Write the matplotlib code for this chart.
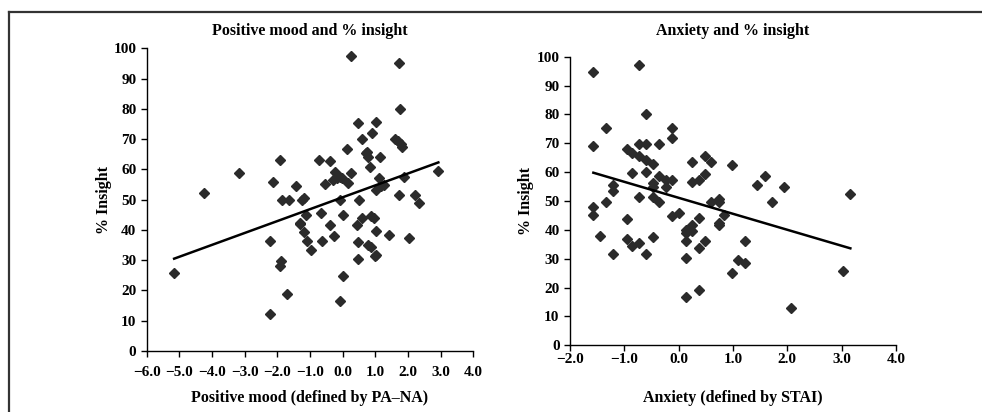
import matplotlib
matplotlib.use("Agg")
import matplotlib.pyplot as plt
from matplotlib.lines import Line2D

# Positive mood (PA-NA) vs % insight
mood_x = [-5.16, -4.24, -3.16, -2.22, -2.22, -2.12, -1.91, -1.89, -1.91, -1.86,
          -1.69, -1.65, -1.42, -1.31, -1.30, -1.24, -1.17, -1.18, -1.12, -1.10,
          -0.97, -0.72, -0.65, -0.63, -0.54, -0.38, -0.38, -0.29, -0.22, -0.25,
          -0.18, -0.08, -0.02, -0.09, -0.09, 0.02, 0.02, 0.14, 0.16, 0.26,
          0.26, 0.43, 0.49, 0.46, 0.46, 0.48, 0.58, 0.58, 0.71, 0.75,
          0.79, 0.84, 0.89, 0.78, 0.86, 0.88, 0.96, 0.99, 1.03, 1.02,
          1.01, 1.02, 1.11, 1.14, 1.18, 1.28, 1.42, 1.60, 1.70, 1.78,
          1.81, 1.73, 1.77, 1.89, 1.73, 2.02, 2.21, 2.34, 2.93]
mood_y = [25.7, 52.3, 58.7, 12.2, 36.5, 55.7, 63.1, 29.6, 28.2, 49.9,
          18.8, 49.9, 54.5, 42.4, 42.0, 49.9, 50.7, 39.2, 44.9, 36.5,
          33.4, 63.1, 45.5, 36.5, 55.3, 62.7, 41.6, 56.5, 59.1, 38.1,
          57.1, 57.6, 57.3, 49.9, 16.6, 44.9, 24.8, 66.6, 55.6, 58.9,
          97.5, 41.6, 49.9, 35.9, 30.3, 75.2, 69.9, 43.8, 65.3, 65.8,
          64.2, 60.7, 72.1, 35.0, 34.4, 44.6, 43.8, 31.4, 31.7, 39.6,
          75.7, 53.2, 57.2, 64.0, 54.5, 55.0, 38.2, 70.0, 69.5, 68.4,
          67.5, 95.0, 79.8, 57.6, 51.5, 37.3, 51.5, 49.0, 59.6]
mood_fit_x = [-5.16, 2.93]
mood_fit_y = [30.5, 62.3]

# Anxiety (STAI) vs % insight
anx_x = [-1.57, -1.57, -1.57, -1.57, -1.45, -1.33, -1.33, -1.20, -1.20, -1.20,
         -0.96, -0.96, -0.96, -0.85, -0.85, -0.85, -0.73, -0.73, -0.73, -0.73,
         -0.73, -0.60, -0.60, -0.60, -0.60, -0.60, -0.48, -0.48, -0.48, -0.48,
         -0.48, -0.36, -0.36, -0.36, -0.24, -0.24, -0.12, -0.12, -0.12, -0.12,
         0.00, 0.13, 0.13, 0.13, 0.13, 0.13, 0.24, 0.24, 0.25, 0.25,
         0.37, 0.37, 0.37, 0.37, 0.49, 0.49, 0.49, 0.60, 0.60, 0.74,
         0.74, 0.74, 0.74, 0.84, 0.98, 0.98, 1.09, 1.22, 1.22, 1.45,
         1.58, 1.71, 1.93, 2.06, 3.03, 3.15]
anx_y = [94.8, 69.1, 48.0, 45.2, 38.0, 75.4, 49.8, 55.5, 53.5, 31.6,
         67.9, 43.9, 36.7, 66.5, 59.6, 34.4, 97.1, 69.6, 65.6, 51.5,
         35.3, 80.0, 69.6, 64.2, 60.2, 31.6, 62.8, 56.1, 55.0, 51.5,
         37.6, 69.6, 58.8, 49.8, 57.2, 54.7, 75.2, 71.9, 57.3, 44.8,
         45.7, 40.0, 38.8, 36.3, 30.4, 16.9, 63.6, 56.5, 41.7, 39.6,
         57.3, 44.0, 33.6, 19.2, 65.6, 59.4, 36.3, 63.4, 49.8, 50.6,
         49.8, 42.5, 41.7, 45.2, 62.5, 24.9, 29.6, 36.3, 28.6, 55.5,
         58.8, 49.8, 54.7, 12.8, 25.9, 52.4]
anx_fit_x = [-1.57, 3.16]
anx_fit_y = [59.8, 33.6]

y_ticks = list(range(0, 101, 10))
mood_ticks = [-6.0, -5.0, -4.0, -3.0, -2.0, -1.0, 0.0, 1.0, 2.0, 3.0, 4.0]
anx_ticks = [-2.0, -1.0, 0.0, 1.0, 2.0, 3.0, 4.0]

plt.rcParams['font.family'] = 'Liberation Serif'
plt.rcParams['font.weight'] = 'bold'

W, H = 982, 412
fig = plt.figure(figsize=(W / 100, H / 100), dpi=100)

# frame around the figure (top and left edges only visible)
fig.add_artist(Line2D([9 / W, 9 / W], [0, 1 - 12 / H], transform=fig.transFigure,
                      color='#333333', lw=1.6))
fig.add_artist(Line2D([9 / W, 1], [1 - 12 / H, 1 - 12 / H], transform=fig.transFigure,
                      color='#333333', lw=1.6))


def style_panel(ax, xticks, title, xlabel, xpad, xlabelpad, ylabelpad):
    ax.set_ylim(0, 100)
    ax.set_yticks(y_ticks)
    ax.set_xlim(xticks[0], xticks[-1])
    ax.set_xticks(xticks)
    ax.set_xticklabels([f"{t:.1f}".replace('-', '\u2212') for t in xticks])
    for s in ['top', 'right']:
        ax.spines[s].set_visible(False)
    for s in ['left', 'bottom']:
        ax.spines[s].set_linewidth(1.0)
    ax.tick_params(axis='both', labelsize=11, length=4, width=1.0, direction='out')
    ax.tick_params(axis='x', pad=xpad)
    ax.set_xlabel(xlabel, fontsize=11.5, fontweight='bold', labelpad=xlabelpad)
    ax.set_ylabel('% Insight', fontsize=11.5, fontweight='bold', labelpad=ylabelpad)
    for lbl in ax.get_xticklabels() + ax.get_yticklabels():
        lbl.set_fontweight('bold')
    # title at the same height for both panels
    bb = ax.get_position()
    fig.text((bb.x0 + bb.x1) / 2, 1 - 31 / H, title, ha='center', va='center',
             fontsize=11.5, fontweight='bold')


ax1 = fig.add_axes([146.7 / W, 1 - 351 / H, (473.3 - 146.7) / W, (351 - 48.3) / H])
ax1.plot(mood_x, mood_y, 'D', color='#2b2b2b', markersize=5, linestyle='none')
ax1.plot(mood_fit_x, mood_fit_y, color='black', lw=1.8)
style_panel(ax1, mood_ticks, 'Positive mood and % insight',
            'Positive mood (defined by PA\u2013NA)', 7, 8, 1)

ax2 = fig.add_axes([570 / W, 1 - 345.3 / H, (896 - 570) / W, (345.3 - 56.7) / H])
ax2.plot(anx_x, anx_y, 'D', color='#2b2b2b', markersize=5, linestyle='none')
ax2.plot(anx_fit_x, anx_fit_y, color='black', lw=1.8)
style_panel(ax2, anx_ticks, 'Anxiety and % insight', 'Anxiety (defined by STAI)', 1.5, 17, 2)

fig.savefig('out.png', dpi=100)
